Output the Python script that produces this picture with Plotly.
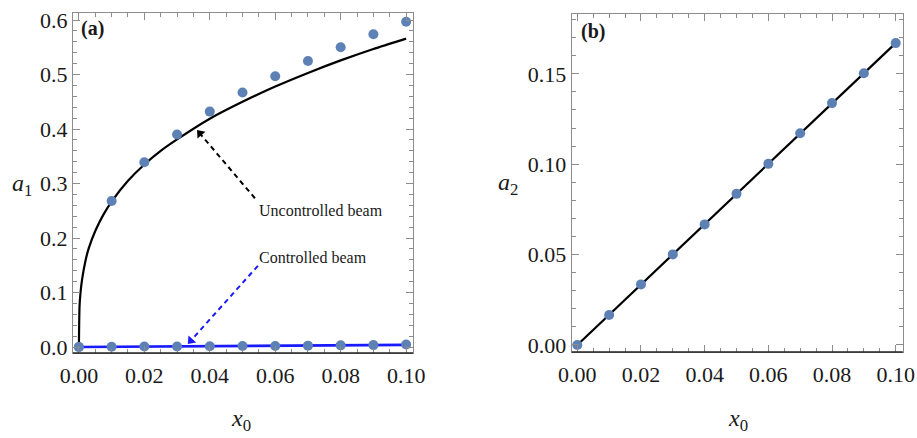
import plotly.graph_objects as go

# ---- data ----
x0_pts = [0.00, 0.01, 0.02, 0.03, 0.04, 0.05, 0.06, 0.07, 0.08, 0.09, 0.10]

# (a) amplitude a1 versus x0
a1_uncontrolled_pts = [0.000, 0.268, 0.339, 0.390, 0.432, 0.467, 0.497, 0.525, 0.550, 0.574, 0.597]
a1_controlled_pts = [0.000, 0.0005, 0.001, 0.001, 0.0015, 0.002, 0.002, 0.0025, 0.003, 0.0035, 0.0045]

curve_x = [0.0, 0.0002, 0.0005, 0.001, 0.002, 0.003, 0.005, 0.0075, 0.01, 0.015, 0.02,
           0.025, 0.03, 0.04, 0.05, 0.06, 0.07, 0.08, 0.09, 0.10]
a1_uncontrolled_curve = [0.0, 0.075, 0.100, 0.125, 0.158, 0.181, 0.213, 0.243, 0.267, 0.305,
                         0.335, 0.360, 0.381, 0.419, 0.450, 0.478, 0.503, 0.526, 0.547, 0.566]
controlled_x = [0.0, 0.10]
a1_controlled_curve = [0.0, 0.004]

# (b) amplitude a2 versus x0
a2_pts = [0.0, 0.0166, 0.0335, 0.0501, 0.0667, 0.0836, 0.1002, 0.1171, 0.1338, 0.1503, 0.1670]
line_b_x = [0.0, 0.10]
a2_line = [0.0, 0.1670]

# ---- styling ----
W, H = 917, 438
DOT = "#5E81B5"
FRAME = "#8c8c8c"
BLUE = "#1a1aff"
SERIF = "Liberation Serif"

fig = go.Figure()

# panel (a)
fig.add_trace(go.Scatter(x=curve_x, y=a1_uncontrolled_curve, mode="lines",
                         line=dict(color="black", width=2.2, shape="spline", smoothing=0.6),
                         xaxis="x", yaxis="y", showlegend=False))
fig.add_trace(go.Scatter(x=controlled_x, y=a1_controlled_curve, mode="lines",
                         line=dict(color=BLUE, width=2.6),
                         xaxis="x", yaxis="y", showlegend=False))
fig.add_trace(go.Scatter(x=x0_pts, y=a1_uncontrolled_pts, mode="markers",
                         marker=dict(color=DOT, size=10),
                         xaxis="x", yaxis="y", showlegend=False))
fig.add_trace(go.Scatter(x=x0_pts, y=a1_controlled_pts, mode="markers",
                         marker=dict(color=DOT, size=10),
                         xaxis="x", yaxis="y", showlegend=False))

# panel (b)
fig.add_trace(go.Scatter(x=line_b_x, y=a2_line, mode="lines",
                         line=dict(color="black", width=2.2),
                         xaxis="x2", yaxis="y2", showlegend=False))
fig.add_trace(go.Scatter(x=x0_pts, y=a2_pts, mode="markers",
                         marker=dict(color=DOT, size=10),
                         xaxis="x2", yaxis="y2", showlegend=False))

tick_font = dict(family=SERIF, size=22, color="#1a1a1a")

def frame_axis(**kw):
    base = dict(showgrid=False, zeroline=False, showline=True, linecolor=FRAME, linewidth=1,
                mirror="allticks", ticks="inside", ticklen=7, tickwidth=1, tickcolor=FRAME,
                tickfont=tick_font, fixedrange=True, automargin=False)
    base.update(kw)
    return base

xa_dom = [73 / W, 413 / W]
xb_dom = [571.7 / W, 902.7 / W]
ya_dom = [1 - 353 / H, 1 - 13 / H]
yb_dom = [1 - 352 / H, 1 - 14 / H]

fig.update_layout(
    template="none",
    width=W, height=H, margin=dict(l=0, r=0, t=0, b=0, autoexpand=False),
    paper_bgcolor="white", plot_bgcolor="white", showlegend=False,
    xaxis=frame_axis(domain=xa_dom, anchor="y", range=[-0.0018, 0.1021],
                     tickvals=[0, 0.02, 0.04, 0.06, 0.08, 0.10], tickformat=".2f",
                     ticklabelstandoff=3,
                     minor=dict(dtick=0.005, tick0=0, ticklen=4, tickcolor=FRAME, ticks="inside")),
    yaxis=frame_axis(domain=ya_dom, anchor="x", range=[-0.011, 0.613],
                     tickvals=[0, 0.1, 0.2, 0.3, 0.4, 0.5, 0.6], tickformat=".1f",
                     minor=dict(dtick=0.02, tick0=0, ticklen=4, tickcolor=FRAME, ticks="inside")),
    xaxis2=frame_axis(domain=xb_dom, anchor="y2", range=[-0.00176, 0.1022],
                      tickvals=[0, 0.02, 0.04, 0.06, 0.08, 0.10], tickformat=".2f",
                      ticklabelstandoff=3,
                      minor=dict(dtick=0.005, tick0=0, ticklen=4, tickcolor=FRAME, ticks="inside")),
    yaxis2=frame_axis(domain=yb_dom, anchor="x2", range=[-0.0039, 0.1831],
                      tickvals=[0, 0.05, 0.10, 0.15], tickformat=".2f",
                      minor=dict(dtick=0.01, tick0=0, ticklen=4, tickcolor=FRAME, ticks="inside")),
)

# darker bottom edge of each frame
for xr, yr in (("x", "y"), ("x2", "y2")):
    fig.add_shape(type="line", xref=f"{xr} domain", yref=f"{yr} domain",
                  x0=0, x1=1, y0=0, y1=0, line=dict(color="#222222", width=1.3))

# dashed pointer lines ending in a filled triangular head
def dashed_arrow(tail, line_end, head_center, color, angle):
    fig.add_shape(type="line", xref="x", yref="y", x0=tail[0], y0=tail[1],
                  x1=line_end[0], y1=line_end[1], line=dict(color=color, width=2, dash="5px,4px"))
    fig.add_trace(go.Scatter(x=[head_center[0]], y=[head_center[1]], mode="markers",
                             xaxis="x", yaxis="y",
                             marker=dict(symbol="triangle-up", size=9, angle=angle, color=color,
                                         line=dict(width=0)),
                             hoverinfo="skip", showlegend=False))

dashed_arrow((0.0538, 0.273), (0.0371, 0.391), (0.0370, 0.392), "black", -40.5)
dashed_arrow((0.0547, 0.149), (0.0343, 0.0123), (0.0342, 0.0117), BLUE, -138)

label_font = dict(family=SERIF, size=16, color="#1a1a1a")
fig.add_annotation(x=0.0545, y=0.251, xref="x", yref="y", text="Uncontrolled beam",
                   showarrow=False, xanchor="left", yanchor="middle", font=label_font)
fig.add_annotation(x=0.0545, y=0.165, xref="x", yref="y", text="Controlled beam",
                   showarrow=False, xanchor="left", yanchor="middle", font=label_font)

# panel tags
tag_font = dict(family=SERIF, size=20, color="#1a1a1a")
fig.add_annotation(x=79 / W, y=1 - 28 / H, xref="paper", yref="paper", text="<b>(a)</b>",
                   showarrow=False, xanchor="left", yanchor="middle", font=tag_font)
fig.add_annotation(x=579 / W, y=1 - 31 / H, xref="paper", yref="paper", text="<b>(b)</b>",
                   showarrow=False, xanchor="left", yanchor="middle", font=tag_font)

# axis titles
title_font = dict(family=SERIF, size=24, color="#1a1a1a")
for text, px, py in (("<i>a</i><sub>1</sub>", 22, 185), ("<i>a</i><sub>2</sub>", 508, 184)):
    fig.add_annotation(x=px / W, y=1 - py / H, xref="paper", yref="paper", text=text,
                       showarrow=False, xanchor="center", yanchor="middle", font=title_font)
for px in (241, 738):
    fig.add_annotation(x=px / W, y=1 - 437 / H, xref="paper", yref="paper",
                       text="<i>x</i><sub>0</sub>", showarrow=False,
                       xanchor="center", yanchor="bottom", font=title_font)

fig.write_html("out.html")
